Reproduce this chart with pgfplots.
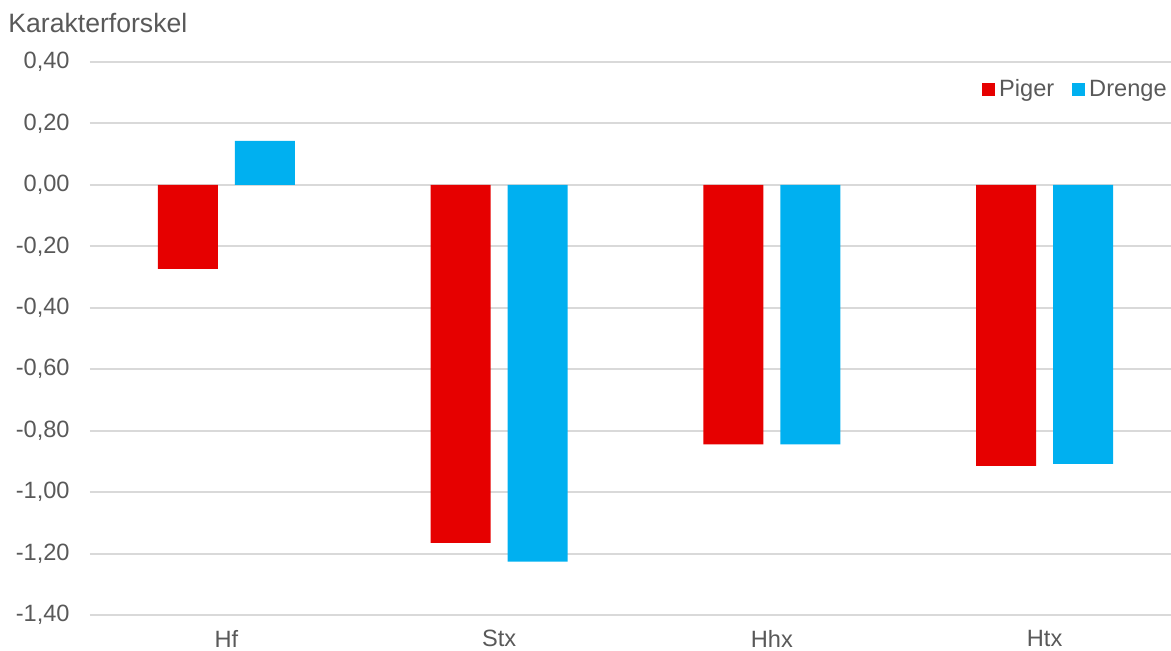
\documentclass[border=0pt]{standalone}
\usepackage{pgfplots}
\pgfplotsset{compat=1.18}
\usepackage{fontspec}
\setmainfont{Liberation Sans}
\definecolor{txt}{HTML}{595959}
\definecolor{gridc}{HTML}{D9D9D9}
\definecolor{piger}{HTML}{E60000}
\definecolor{drenge}{HTML}{00B0F0}
\begin{document}
\begin{tikzpicture}
\useasboundingbox (-45pt,-18pt) rectangle (540.5pt,307.5pt);
\begin{axis}[
  at={(0,0)}, anchor=south west,
  scale only axis,
  width=545.5pt, height=276.5pt,
  xmin=-0.5, xmax=3.5,
  ymin=-1.4, ymax=0.4,
  axis line style={draw=none},
  major tick length=0pt,
  xtick={0,1,2,3},
  xticklabels={Hf,Stx,Hhx,Htx},
  ytick={-1.4,-1.2,-1.0,-0.8,-0.6,-0.4,-0.2,0,0.2,0.4},
  yticklabels={{-1,40},{-1,20},{-1,00},{-0,80},{-0,60},{-0,40},{-0,20},{0,00},{0,20},{0,40}},
  ymajorgrids,
  grid style={gridc, line width=1pt},
  tick label style={font=\fontsize{11.8}{14}\selectfont, text=txt},
  yticklabel style={anchor=east, inner sep=0pt, xshift=-10pt},
  xticklabel style={anchor=north, inner sep=0pt, yshift=-7.3pt},
  ybar=8.5pt, bar width=30pt,
  legend columns=2,
  legend style={at={(0.9927,1)}, anchor=north east, draw=none, fill=none,
    inner xsep=1pt, inner ysep=0pt, yshift=-6.5pt,
    font=\fontsize{11.8}{14}\selectfont, text=txt,
    /tikz/every even column/.append style={column sep=7pt}},
  legend image code/.code={\path[#1] (0pt,-3.25pt) rectangle (6.5pt,3.25pt);},
  clip=false,
]
\addplot[fill=piger, draw=none] coordinates {(0,-0.273) (1,-1.165) (2,-0.845) (3,-0.915)};
\addplot[fill=drenge, draw=none] coordinates {(0,0.143) (1,-1.226) (2,-0.845) (3,-0.908)};
\legend{Piger,Drenge}
\end{axis}
\node[anchor=base west, inner sep=0pt, text=txt, font=\fontsize{13.3}{16}\selectfont] at (-41pt,291pt) {Karakterforskel};
\end{tikzpicture}
\end{document}
